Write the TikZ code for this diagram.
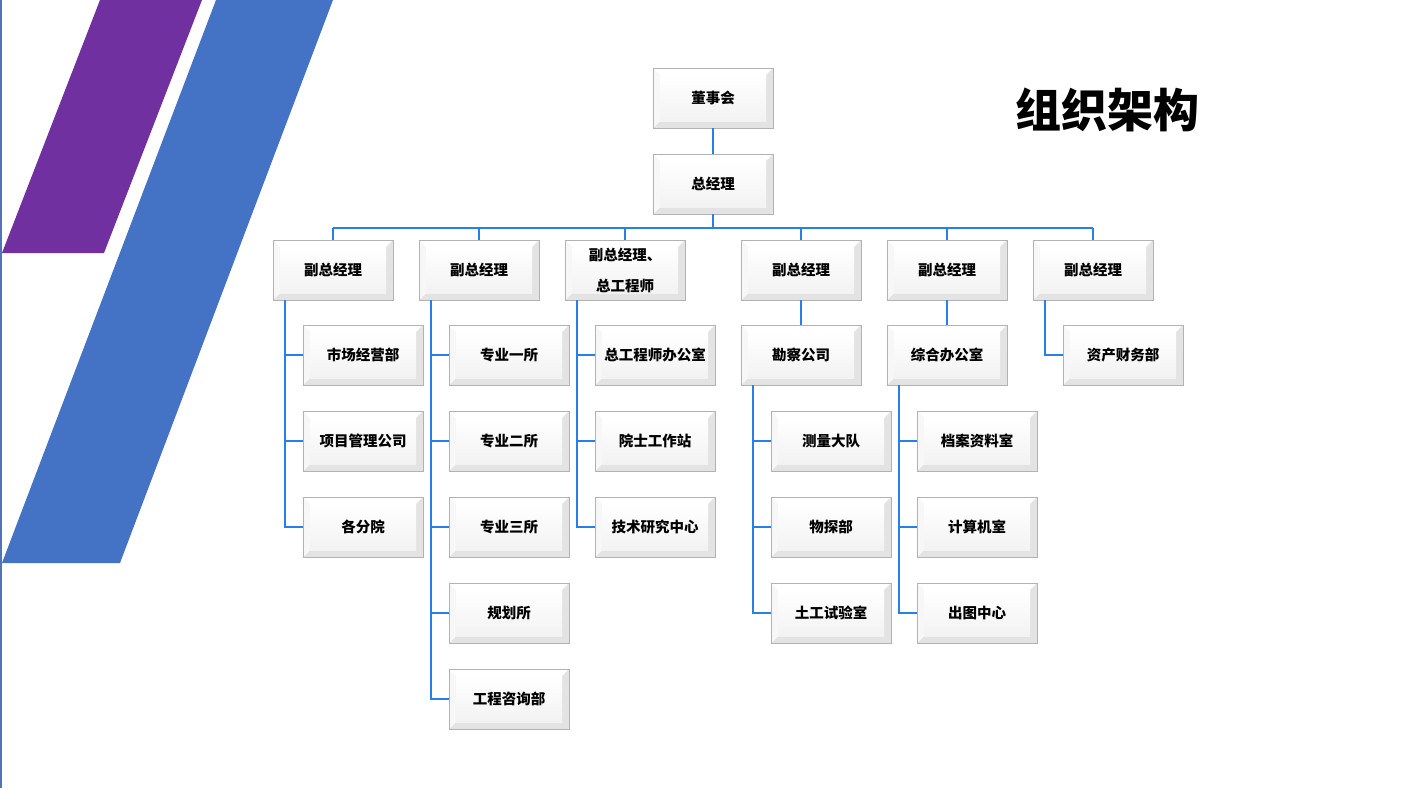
\documentclass[tikz,border=0pt]{standalone}
\usepackage{fontspec}
\newfontfamily\cjk{Noto Sans CJK SC}
\usetikzlibrary{calc}
\definecolor{barPurple}{RGB}{112,48,160}
\definecolor{barBlue}{RGB}{68,114,196}
\definecolor{linkBlue}{RGB}{38,128,232}

\tikzset{
  orgbox/.style={draw=gray!60, line width=0.8pt, fill=white, minimum width=120pt, minimum height=60pt,
    inner sep=0pt, align=center, font=\cjk\bfseries\fontsize{14.5}{31}\selectfont,
    path picture={
      \path (path picture bounding box.south west) coordinate (bsw)
            (path picture bounding box.north east) coordinate (bne);
      \fill[gray!22] (bsw) -- (bsw -| bne) -- (bne) -- ($(bne)+(-7pt,-7pt)$)
        -- ($(bsw -| bne)+(-7pt,7pt)$) -- ($(bsw)+(7pt,7pt)$) -- cycle;
      \fill[gray!6] (bsw) -- ($(bsw)+(7pt,7pt)$) -- ($(bsw |- bne)+(7pt,-7pt)$) -- (bsw |- bne) -- cycle;
      \shade[top color=white, bottom color=gray!10] ($(bsw)+(7pt,7pt)$) rectangle ($(bne)+(-7pt,-7pt)$);
    }},
  link/.style={draw=linkBlue, line width=2pt}
}

\begin{document}
\begin{tikzpicture}[x=1pt, y=-1pt]
\useasboundingbox[fill=white] (0,0) rectangle (1405,788);
% decorative bars
\fill[barPurple] (100,0) -- (202,0) -- (104,253) -- (2,253) -- cycle;
\fill[barBlue] (216,0) -- (333,0) -- (120,563) -- (2,563) -- cycle;
\draw[barBlue!80!gray, line width=1.5pt] (0.75,0) -- (0.75,788);

\node[font=\cjk\bfseries\fontsize{46}{46}\selectfont] (title) at (1107,110) {组织架构};

% top levels
\node[orgbox] (board) at (713,98) {董事会};
\node[orgbox] (gm) at (713,184) {总经理};
\draw[link] (board) -- (gm);

\foreach \x/\t [count=\i] in {333/副总经理, 479/副总经理, 625/{副总经理、\\总工程师},
    801/副总经理, 947/副总经理, 1093/副总经理}
  \node[orgbox] (vp\i) at (\x,270) {\t};

\coordinate (bus) at (0,228);
\draw[link] (gm.south) -- (gm.south |- bus);
\draw[link] (vp1.north |- bus) -- (vp6.north |- bus);
\foreach \i in {1,...,6}
  \draw[link] (vp\i.north) -- (vp\i.north |- bus);

% departments
\foreach \t [count=\j] in {市场经营部, 项目管理公司, 各分院}
  \node[orgbox] (a\j) at (363,{269+86*\j}) {\t};
\foreach \t [count=\j] in {专业一所, 专业二所, 专业三所, 规划所, 工程咨询部}
  \node[orgbox] (b\j) at (509,{269+86*\j}) {\t};
\foreach \t [count=\j] in {总工程师办公室, 院士工作站, 技术研究中心}
  \node[orgbox] (c\j) at (655,{269+86*\j}) {\t};

\node[orgbox] (d0) at (801,355) {勘察公司};
\node[orgbox] (e0) at (947,355) {综合办公室};
\foreach \t [count=\j] in {测量大队, 物探部, 土工试验室}
  \node[orgbox] (d\j) at (831,{355+86*\j}) {\t};
\foreach \t [count=\j] in {档案资料室, 计算机室, 出图中心}
  \node[orgbox] (e\j) at (977,{355+86*\j}) {\t};
\node[orgbox] (f1) at (1123,355) {资产财务部};

% connectors
\foreach \j in {1,2,3}
  \draw[link] ($(vp1.south west)+(12,0)$) |- (a\j.west);
\foreach \j in {1,...,5}
  \draw[link] ($(vp2.south west)+(12,0)$) |- (b\j.west);
\foreach \j in {1,2,3}
  \draw[link] ($(vp3.south west)+(12,0)$) |- (c\j.west);
\draw[link] (vp4) -- (d0);
\draw[link] (vp5) -- (e0);
\foreach \j in {1,2,3} {
  \draw[link] ($(d0.south west)+(12,0)$) |- (d\j.west);
  \draw[link] ($(e0.south west)+(12,0)$) |- (e\j.west);
}
\draw[link] ($(vp6.south west)+(12,0)$) |- (f1.west);
\end{tikzpicture}
\end{document}
